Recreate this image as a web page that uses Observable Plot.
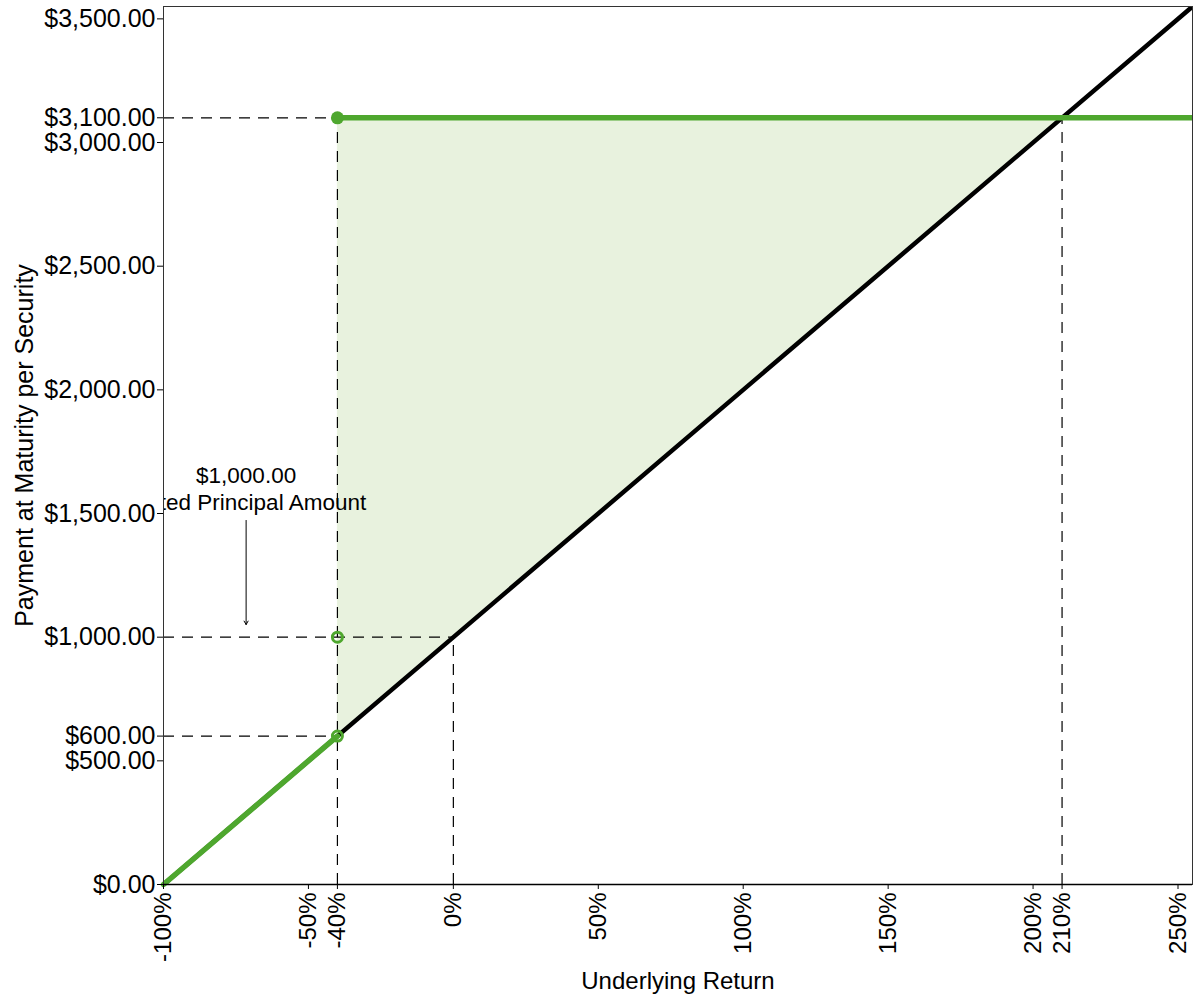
<!DOCTYPE html>
<html>
<head>
<meta charset="utf-8">
<script src="https://cdn.jsdelivr.net/npm/d3@7"></script>
<script src="https://cdn.jsdelivr.net/npm/@observablehq/plot@0.6"></script>
<style>
  body { margin: 0; background: #fff; }
</style>
</head>
<body>
<div id="chart"></div>
<script>
const xTicks = [-100, -50, -40, 0, 50, 100, 150, 200, 210, 250];
const yTicks = [0, 500, 600, 1000, 1500, 2000, 2500, 3000, 3100, 3500];

// underlying payoff (black) and note payoff (green)
const underlyingLine = [{x: -100, y: 0}, {x: 255, y: 3550}];
const noteLow = [{x: -100, y: 0}, {x: -40, y: 600}];
const noteHigh = [{x: -40, y: 3100}, {x: 255, y: 3100}];

// shaded outperformance region
const outperform = [{x: -40, y1: 600, y2: 3100}, {x: 210, y1: 3100, y2: 3100}];

// dashed guides
const hGuides = [
  {y: 3100, x1: -100, x2: -40},
  {y: 1000, x1: -100, x2: 0},
  {y: 600, x1: -100, x2: -40}
];
const vGuides = [
  {x: -40, y1: 0, y2: 3100},
  {x: 0, y1: 0, y2: 1000},
  {x: 210, y1: 0, y2: 3100}
];

const filledDots = [{x: -40, y: 3100}];
const openDots = [{x: -40, y: 1000}, {x: -40, y: 600}];

const noteLabels = [
  {x: -71.5, y: 1654, text: "$1,000.00"},
  {x: -71.5, y: 1545, text: "Stated Principal Amount"}
];
const noteArrow = [{x: -71.5, y1: 1472, y2: 1051}];

const green = "#4ea72e";
const dash = "11,8";

let chart = Plot.plot({
  width: 1200,
  height: 1000,
  marginLeft: 163,
  marginRight: 8,
  marginTop: 6,
  marginBottom: 116,
  style: {fontFamily: "Liberation Sans, Arial, sans-serif", fontSize: "24px", color: "#000", background: "#fff"},
  x: {domain: [-100, 255]},
  y: {domain: [0, 3550]},
  marks: [
    Plot.areaY(outperform, {x: "x", y1: "y1", y2: "y2", fill: "#e8f2de"}),
    Plot.ruleY(hGuides, {y: "y", x1: "x1", x2: "x2", stroke: "#000", strokeWidth: 1.2, strokeDasharray: dash}),
    Plot.ruleX(vGuides, {x: "x", y1: "y1", y2: "y2", stroke: "#000", strokeWidth: 1.2, strokeDasharray: dash}),
    Plot.line(underlyingLine, {x: "x", y: "y", stroke: "#000", strokeWidth: 4.5, clip: true}),
    Plot.line(noteLow, {x: "x", y: "y", stroke: green, strokeWidth: 5.5}),
    Plot.line(noteHigh, {x: "x", y: "y", stroke: green, strokeWidth: 5.5, clip: true}),
    Plot.dot(filledDots, {x: "x", y: "y", r: 6.5, fill: green}),
    Plot.dot(openDots, {x: "x", y: "y", r: 5, stroke: green, strokeWidth: 3, fill: "none"}),
    Plot.text(noteLabels, {x: "x", y: "y", text: "text", fontSize: 22.5, fill: "#000", clip: true}),
    Plot.arrow(noteArrow, {x: "x", y1: "y1", y2: "y2", stroke: "#000", strokeWidth: 1, headLength: 6}),
    Plot.frame({stroke: "#333"}),
    Plot.ruleY([0], {stroke: "#000", strokeWidth: 1.5}),
    Plot.axisY({
      ticks: yTicks,
      tickFormat: d3.format("$,.2f"),
      tickSize: 6,
      tickPadding: 2,
      fontSize: 25,
      label: "Payment at Maturity per Security",
      labelArrow: false,
      labelAnchor: "center",
      labelOffset: 148
    }),
    Plot.axisX({
      ticks: xTicks,
      tickFormat: d => d + "%",
      tickSize: 5,
      tickPadding: 3,
      tickRotate: -90,
      fontSize: 24,
      label: "Underlying Return",
      labelArrow: false,
      labelAnchor: "center",
      labelOffset: 104
    })
  ]
});

d3.select("#chart").append(() => chart);
</script>
</body>
</html>
